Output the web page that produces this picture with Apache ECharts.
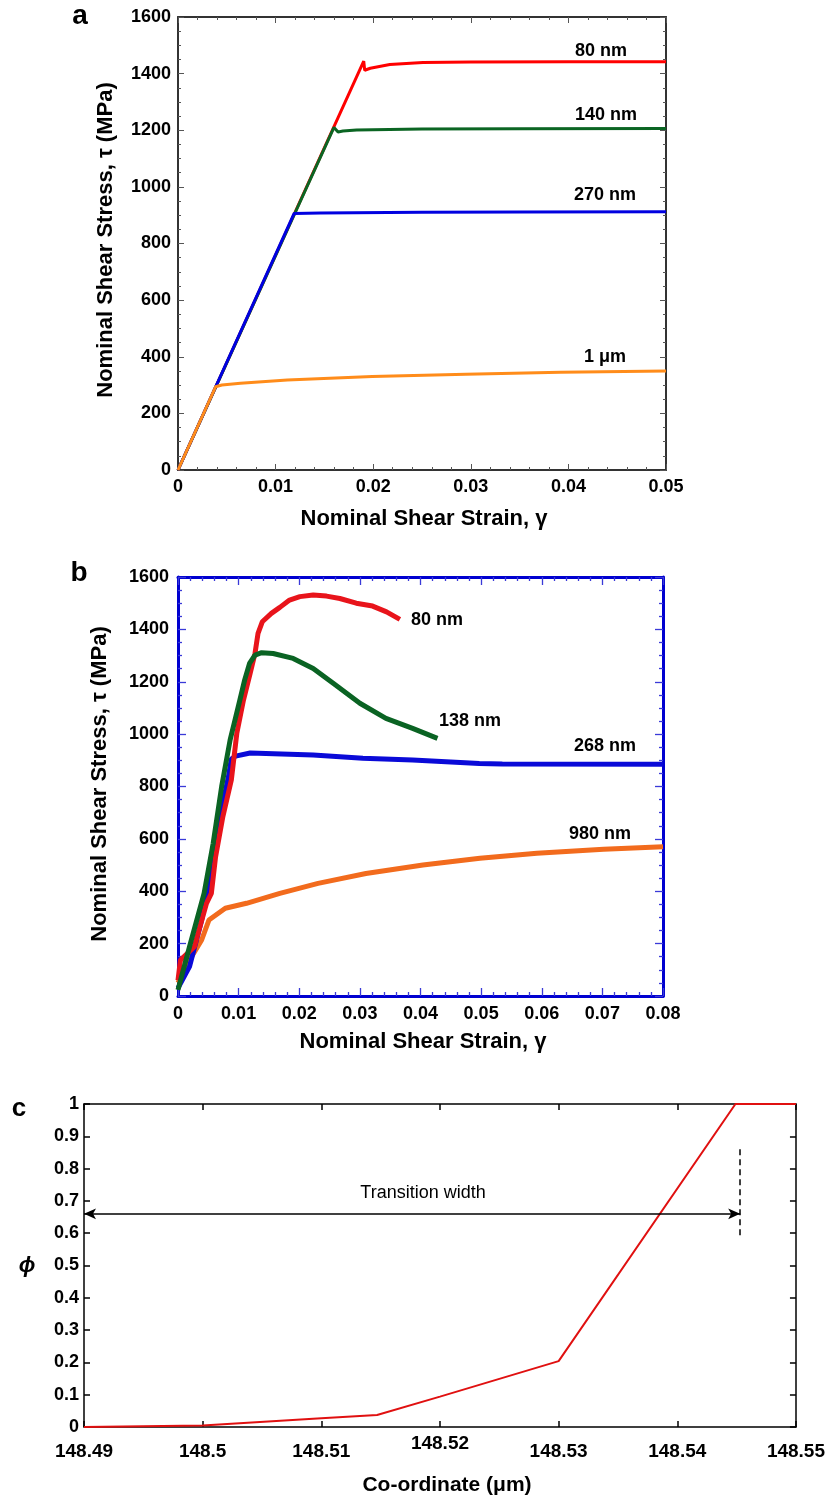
<!DOCTYPE html>
<html>
<head>
<meta charset="utf-8">
<script src="https://cdn.jsdelivr.net/npm/echarts@6/dist/echarts.min.js"></script>
<style>
html,body{margin:0;padding:0;background:#fff;}
#chart{width:828px;height:1501px;}
</style>
</head>
<body>
<div id="chart"></div>
<script>
// ---------- Panel a data (strain, stress MPa) ----------
var aTicksX = [0, 0.05, 0.01];
var aTicksY = [0, 1600, 200];
var a80 = [[0,0],[0.01903,1444],[0.01913,1412],[0.0197,1419],[0.0217,1432],[0.0251,1439],[0.03,1441],[0.04,1442],[0.05,1442]];
var a140 = [[0,0],[0.01598,1210],[0.0164,1194],[0.0169,1197],[0.0183,1201],[0.025,1204],[0.035,1205],[0.05,1206]];
var a270 = [[0,0],[0.0119,906],[0.0146,908],[0.025,910],[0.035,911],[0.05,912]];
var a1um = [[0,0],[0.00385,294],[0.0045,300],[0.0064,306],[0.0112,318],[0.0199,330],[0.0295,338],[0.0392,345],[0.05,350]];
var aNames = ['80 nm','140 nm','270 nm','1 \u03bcm'];

// ---------- Panel b data ----------
var bTicksX = [0, 0.08, 0.01];
var bTicksY = [0, 1600, 200];
var b980 = [[0,50],[0.001,95],[0.0019,137],[0.0039,214],[0.0051,290],[0.0078,335],[0.0113,354],[0.0168,392],[0.0231,430],[0.031,468],[0.0404,500],[0.0498,526],[0.0592,545],[0.0702,560],[0.08,570]];
var b268 = [[0,30],[0.0019,112],[0.0039,290],[0.0054,468],[0.0074,736],[0.0083,835],[0.0088,905],[0.0095,916],[0.0119,928],[0.0223,920],[0.0305,908],[0.0387,901],[0.0497,888],[0.0535,886],[0.08,885]];
var b80 = [[0,60],[0.0004,137],[0.0027,188],[0.0047,354],[0.0055,392],[0.0062,532],[0.0074,685],[0.0088,825],[0.0097,1003],[0.0108,1130],[0.0119,1232],[0.0127,1308],[0.0132,1385],[0.0139,1429],[0.0154,1461],[0.0168,1484],[0.0184,1512],[0.0201,1525],[0.0223,1531],[0.0245,1527],[0.0267,1518],[0.0294,1500],[0.0321,1489],[0.0344,1467],[0.0366,1438]];
var b138 = [[0,23],[0.0019,188],[0.0043,392],[0.0058,583],[0.0072,800],[0.0086,978],[0.0094,1054],[0.0102,1130],[0.011,1207],[0.0118,1270],[0.0127,1302],[0.0138,1311],[0.0157,1308],[0.019,1289],[0.0223,1251],[0.0256,1194],[0.03,1118],[0.0343,1060],[0.0387,1022],[0.0428,984]];
var bNames = ['80 nm','138 nm','268 nm','980 nm'];

// ---------- Panel c data (co-ordinate um, phi) ----------
var cTicksX = [148.49, 148.55, 0.01];
var cTicksY = [0, 1, 0.1];
var cPhi = [[148.49,0],[148.5,0.005],[148.51,0.027],[148.5147,0.037],[148.52,0.094],[148.53,0.204],[148.5449,1],[148.55,1]];
var cArrow = [[148.49,0.66],[148.5453,0.66]];
var cDash = [[148.5453,0.86],[148.5453,0.587]];
var cNote = 'Transition width';

var FONT = "'Liberation Sans', Arial, Helvetica, sans-serif";

var grids = [
  {left:178, top:17, width:488, height:453},
  {left:178, top:577, width:485, height:419},
  {left:84, top:1104, width:716, height:323}
];

var xAxes = [], yAxes = [];
function addAxes(g, xt, yt, st) {
  [false, true].forEach(function (mirror) {
    var common = {
      type: 'value', gridIndex: g,
      axisLine: {show: true, onZero: false, lineStyle: {color: st.line, width: st.lineW}},
      axisTick: {show: true, inside: true, length: st.tickLen, lineStyle: {color: st.tick, width: st.tickW}},
      splitLine: {show: false}, minorSplitLine: {show: false}
    };
    var xa = Object.assign({}, common, {
      position: mirror ? 'top' : 'bottom', min: xt[0], max: xt[1], interval: xt[2],
      minorTick: {show: st.minorX > 0, splitNumber: st.minorX || 5, length: st.minorLen, lineStyle: {color: st.tick, width: st.tickW}},
      axisLabel: mirror ? {show: false} : st.xLabel
    });
    var ya = Object.assign({}, common, {
      position: mirror ? 'right' : 'left', min: yt[0], max: yt[1], interval: yt[2],
      minorTick: {show: st.minorY > 0, splitNumber: st.minorY || 4, length: st.minorLen, lineStyle: {color: st.tick, width: st.tickW}},
      axisLabel: mirror ? {show: false} : st.yLabel
    });
    xAxes.push(xa); yAxes.push(ya);
  });
}

function fmt(d) { return function (v) { return String(+(+v).toFixed(d)); }; }

addAxes(0, aTicksX, aTicksY, {
  line: '#333', lineW: 2, tick: '#555', tickW: 1, tickLen: 6, minorLen: 3, minorX: 5, minorY: 4,
  xLabel: {fontSize: 18, fontWeight: 'bold', color: '#000', fontFamily: FONT, margin: 8, formatter: fmt(2)},
  yLabel: {fontSize: 18, fontWeight: 'bold', color: '#000', fontFamily: FONT, margin: 7, formatter: fmt(0)}
});
addAxes(1, bTicksX, bTicksY, {
  line: '#0000d0', lineW: 3, tick: '#3a3ad8', tickW: 1.3, tickLen: 8, minorLen: 4, minorX: 5, minorY: 4,
  xLabel: {fontSize: 18, fontWeight: 'bold', color: '#000', fontFamily: FONT, margin: 9, formatter: fmt(2)},
  yLabel: {fontSize: 18, fontWeight: 'bold', color: '#000', fontFamily: FONT, margin: 9, formatter: fmt(0)}
});
addAxes(2, cTicksX, cTicksY, {
  line: '#000', lineW: 1.5, tick: '#000', tickW: 1.5, tickLen: 6, minorLen: 3, minorX: 0, minorY: 0,
  xLabel: {
    margin: 4, fontFamily: FONT,
    formatter: function (v) {
      var s = String(+(+v).toFixed(2));
      return Math.abs(v - 148.52) < 1e-6 ? '{up|' + s + '}' : '{n|' + s + '}';
    },
    rich: {
      n: {fontSize: 19, fontWeight: 'bold', color: '#000', fontFamily: FONT, lineHeight: 42},
      up: {fontSize: 19, fontWeight: 'bold', color: '#000', fontFamily: FONT, lineHeight: 25}
    }
  },
  yLabel: {fontSize: 18, fontWeight: 'bold', color: '#000', fontFamily: FONT, margin: 5, formatter: fmt(1)}
});

function line(name, data, xi, color, w, z) {
  return {type: 'line', name: name, data: data, xAxisIndex: xi, yAxisIndex: xi, showSymbol: false, symbol: 'none',
    lineStyle: {color: color, width: w}, itemStyle: {color: color}, z: z, silent: true, animation: false};
}

var series = [
  line(aNames[0], a80, 0, '#ff0000', 3, 2),
  line(aNames[1], a140, 0, '#0b6523', 3, 3),
  line(aNames[2], a270, 0, '#0000e0', 3, 4),
  line(aNames[3], a1um, 0, '#ff8c1a', 3, 5),
  line(bNames[3], b980, 2, '#f26b1d', 5, 2),
  line(bNames[2], b268, 2, '#0a0ad8', 5, 3),
  line(bNames[0], b80, 2, '#e8141b', 5, 4),
  line(bNames[1], b138, 2, '#0a6323', 5, 5),
  (function () {
    var s = line('phi', cPhi, 4, '#e01010', 2, 3);
    s.markLine = {
      silent: true, animation: false, label: {show: false}, emphasis: {disabled: true},
      data: [
        [{coord: cArrow[0], symbol: 'arrow', symbolSize: [8, 12], lineStyle: {color: '#000', width: 1.5, type: 'solid'}},
         {coord: cArrow[1], symbol: 'arrow', symbolSize: [8, 12]}],
        [{coord: cDash[0], symbol: 'none', lineStyle: {color: '#000', width: 1.5, type: [6, 4]}},
         {coord: cDash[1], symbol: 'none'}]
      ]
    };
    return s;
  })()
];

function txt(t, x, y, size, opts) {
  opts = opts || {};
  return {
    type: 'text', x: x, y: y, rotation: opts.rot || 0, silent: true, z: 10,
    style: {text: t, fill: '#000', font: (opts.italic ? 'italic ' : '') + (opts.normal ? 'normal ' : 'bold ') + size + 'px ' + FONT,
      align: opts.align || 'center', verticalAlign: 'middle'}
  };
}

var graphics = [
  txt('a', 80, 16, 28),
  txt('b', 79, 573, 28),
  txt('c', 19, 1109, 26),
  txt('Nominal Shear Stress, \u03c4 (MPa)', 106, 240, 22, {rot: Math.PI / 2}),
  txt('Nominal Shear Strain, \u03b3', 424, 519, 22),
  txt(aNames[0], 601, 51, 18),
  txt(aNames[1], 606, 115, 18),
  txt(aNames[2], 605, 195, 18),
  txt(aNames[3], 605, 357, 18),
  txt('Nominal Shear Stress, \u03c4 (MPa)', 100, 784, 22, {rot: Math.PI / 2}),
  txt('Nominal Shear Strain, \u03b3', 423, 1042, 22),
  txt(bNames[0], 437, 620, 18),
  txt(bNames[1], 470, 721, 18),
  txt(bNames[2], 605, 746, 18),
  txt(bNames[3], 600, 834, 18),
  txt('\u03d5', 27, 1266, 22, {italic: true}),
  txt('Co-ordinate (\u03bcm)', 447, 1485, 21),
  txt(cNote, 423, 1193, 18, {normal: true})
];

var chart = echarts.init(document.getElementById('chart'), null, {renderer: 'canvas'});
chart.setOption({
  animation: false,
  backgroundColor: '#fff',
  grid: grids,
  xAxis: xAxes,
  yAxis: yAxes,
  series: series,
  graphic: graphics
});
</script>
</body>
</html>
